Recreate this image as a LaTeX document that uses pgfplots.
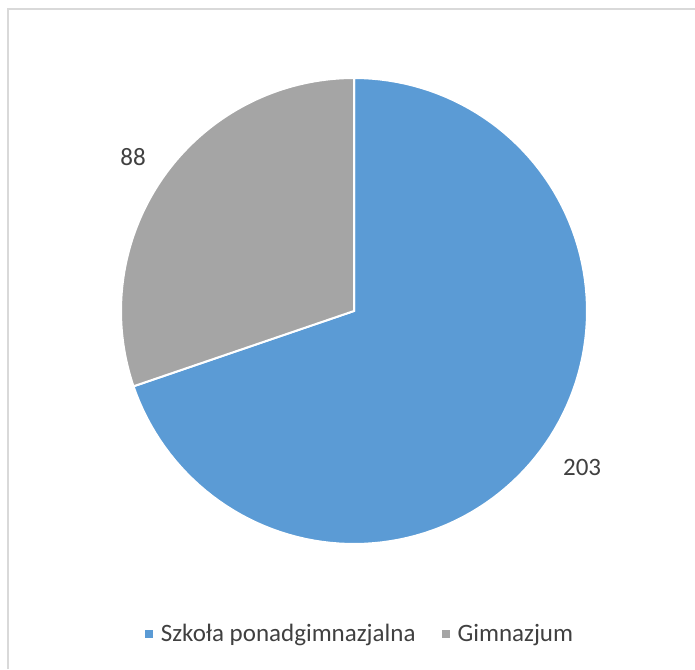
\documentclass[border=0pt]{standalone}
\usepackage{fontspec}
\setmainfont{Carlito}
\usepackage{pgfplots}
\pgfplotsset{compat=1.18}
\definecolor{sblue}{HTML}{5B9BD5}
\definecolor{sgray}{HTML}{A5A5A5}
\definecolor{txt}{HTML}{404040}
\definecolor{frame}{HTML}{D9D9D9}
\begin{document}
\begin{tikzpicture}
\path[use as bounding box] (0pt,0pt) rectangle (347.5pt,334.5pt);
\draw[frame,line width=1pt] (4pt,0pt) -- (4pt,330pt) -- (347.5pt,330pt);
\def\va{203}
\def\vb{88}
\pgfmathsetmacro{\tot}{\va+\vb}
\pgfmathsetmacro{\aend}{90-360*(\va/\tot)}
\pgfmathsetmacro{\bend}{90+360*(\vb/\tot)}
\begin{axis}[
  at={(177pt,179pt)}, anchor=center,
  scale only axis, width=233pt, height=233pt,
  xmin=-1, xmax=1, ymin=-1, ymax=1,
  hide axis, clip=false,
  font=\fontsize{12.5}{15}\selectfont\color{txt},
  legend columns=2,
  legend style={at={(axis cs:0.03,-1.386)}, anchor=center, draw=none, fill=none,
    font=\fontsize{12.5}{15}\selectfont\color{txt},
    /tikz/every even column/.append style={column sep=11pt}},
  legend image code/.code={\fill[#1,draw=none] (0pt,-2pt) rectangle (4pt,2pt); \path (5.5pt,0pt);},
]
\addplot[fill=sblue, draw=white, line width=1pt, domain=\aend:90, samples=120, variable=\t]
  ({cos(t)},{sin(t)}) -- (axis cs:0,0) -- cycle;
\addlegendentry{Szkoła ponadgimnazjalna}
\addplot[fill=sgray, draw=white, line width=1pt, domain=90:\bend, samples=80, variable=\t]
  ({cos(t)},{sin(t)}) -- (axis cs:0,0) -- cycle;
\addlegendentry{Gimnazjum}
\node[txt] at (axis cs:0.979,-0.670) {203};
\node[txt] at (axis cs:-0.948,0.661) {88};
\end{axis}
\end{tikzpicture}
\end{document}
